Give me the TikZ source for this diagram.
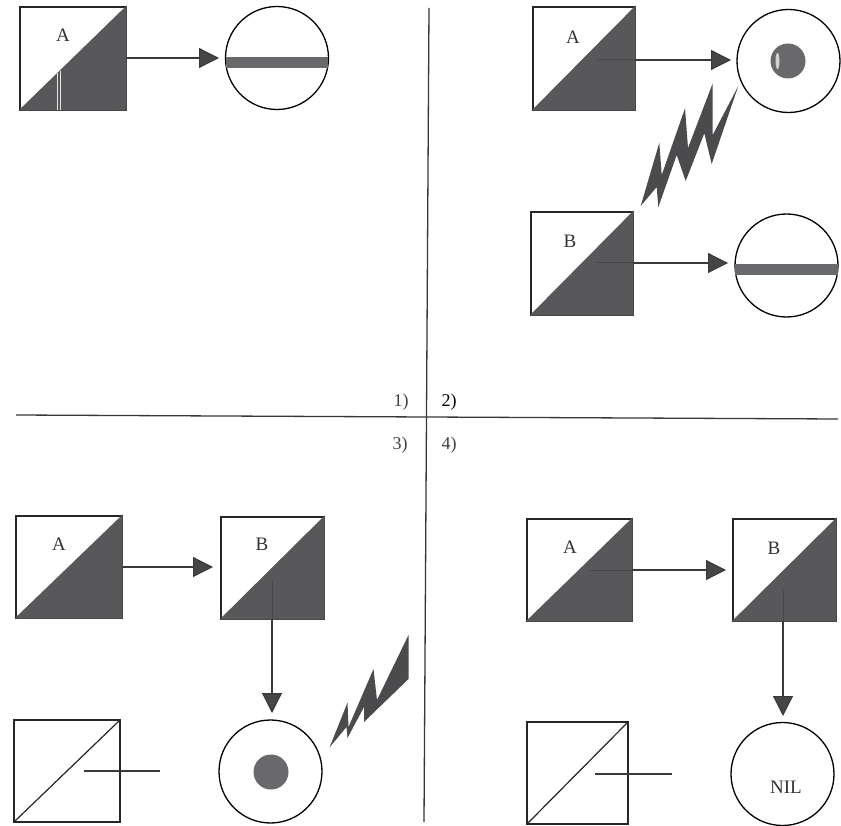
\documentclass[tikz,border=0pt]{standalone}
\usepackage{fontspec}
\setmainfont{Liberation Serif}
\usetikzlibrary{arrows.meta}
\definecolor{dk}{HTML}{58585B}
\definecolor{bar}{HTML}{69696C}
\definecolor{ln}{HTML}{3A3A3C}
\tikzset{
  x=1pt,y=-1pt,
  sq/.style 2 args={draw=black!85,line width=1.2pt,rectangle,inner sep=0pt,outer sep=0pt,minimum width=#1,minimum height=#2},
  circ/.style={draw=black,line width=1.3pt,circle,inner sep=0pt,outer sep=0pt,minimum size=103pt},
  lbl/.style={font=\fontsize{19}{21}\selectfont,text=black!80,inner sep=0pt},
  num/.style={font=\fontsize{18}{20}\selectfont,text=black!75,inner sep=0pt},
  conn/.style={draw=ln,line width=1.2pt,-{Triangle[length=20pt,width=20pt,fill=dk!80!black]}},
  stub/.style={draw=ln,line width=1.2pt},
  faint/.style={draw=black!72,line width=1pt},
  rule/.style={draw=black!78,line width=1.3pt},
  dot/.style={fill=bar,circle,inner sep=0pt,minimum size=35pt},
  bolt/.style={fill=dk!85!black,draw=none},
}
\newcommand{\halfsq}[1]{\filldraw[fill=dk,draw=dk,line width=1.2pt,line join=miter] (#1.south west) -- (#1.south east) -- (#1.north east) -- cycle;}
\newcommand{\slashsq}[1]{\draw[line width=1.2pt,black!85] (#1.south west) -- (#1.north east);}
\begin{document}
\begin{tikzpicture}
\useasboundingbox (0,0) rectangle (841,826);
\fill[white] (0,0) rectangle (841,826);

% dividing lines
\coordinate (vt) at (429,8); \coordinate (vb) at (424,822);
\coordinate (hl) at (16,415); \coordinate (hr) at (838,419);
\draw[rule] (vt) -- (vb);
\draw[rule] (hl) -- (hr);
\node[num] (n1) at (401,402) {1)};
\node[num,text=black] (n2) at (449,402) {2)};
\node[num] (n3) at (400,445) {3)};
\node[num] (n4) at (449,445) {4)};

% panel 1
\node[sq={106pt}{103pt}] (a1) at (73,58.5) {};
\halfsq{a1}
\draw[white!85!dk,line width=.8pt] (57.5,73) -- (57.5,110) (60,71) -- (60,110);
\node[lbl] (a1l) at (63,35) {A};
\node[circ] (c1) at (277,58) {};
\fill[bar] (226,57.5) rectangle (328,68);
\coordinate (t1) at (219,58);
\draw[conn] (a1.east |- t1) -- (t1);

% panel 2
\node[sq={102pt}{103pt}] (a2) at (584,58.5) {};
\halfsq{a2}
\node[lbl] (a2l) at (573,37) {A};
\node[circ] (c2) at (788.5,61) {};
\node[dot] (d2) at (788,61) {};
\fill[white!70!bar] (777.5,61) ellipse (2 and 8);
\coordinate (s2) at (598,60); \coordinate (t2) at (731,60);
\draw[faint] (s2) -- (a2.east |- s2);
\draw[conn] (a2.east |- s2) -- (t2);
\node[sq={102pt}{103pt}] (b2) at (582,263.5) {};
\halfsq{b2}
\node[lbl] (b2l) at (570,241) {B};
\node[circ] (c2b) at (786.5,265.5) {};
\fill[bar] (735,264) rectangle (838,275);
\coordinate (s2b) at (596,263); \coordinate (t2b) at (728,263);
\draw[faint] (s2b) -- (b2.east |- s2b);
\draw[conn] (b2.east |- s2b) -- (t2b);
\fill[bolt] (640.7,206) -- (659.3,142.7) -- (661.7,175) -- (685,108.3) -- (688,148) -- (712.7,83.3)
  -- (712.7,135) -- (738.3,86) -- (711.7,164) -- (704.3,133.3) -- (685.7,181) -- (676.7,155)
  -- (658.3,207.3) -- (656.7,187) -- cycle;

% panel 3
\node[sq={106pt}{102pt}] (a3) at (69,567) {};
\halfsq{a3}
\node[lbl] (a3l) at (59,544) {A};
\node[sq={103pt}{102pt}] (b3) at (272.5,568) {};
\halfsq{b3}
\node[lbl] (b3l) at (262,544) {B};
\coordinate (t3) at (213,567);
\draw[conn] (a3.east |- t3) -- (t3);
\node[circ] (c3) at (270.5,771.5) {};
\node[dot] (d3) at (271,772) {};
\coordinate (s3) at (272,580); \coordinate (t3b) at (272,713);
\draw[faint] (s3) -- (s3 |- b3.south);
\draw[conn] (s3 |- b3.south) -- (t3b);
\node[sq={106pt}{102pt}] (e3) at (67,771) {};
\slashsq{e3}
\coordinate (s3c) at (84,771); \coordinate (t3c) at (160,771);
\draw[stub] (s3c) -- (t3c);
\fill[bolt] (329.5,747.5) -- (347.5,702.5) -- (348.5,727) -- (373.5,669) -- (377,700) -- (408.5,635)
  -- (408.5,679) -- (364,722) -- (364,707) -- (347.5,738) -- (346.5,727) -- cycle;

% panel 4
\node[sq={105pt}{102pt}] (a4) at (579.5,570) {};
\halfsq{a4}
\node[lbl] (a4l) at (570,547) {A};
\node[sq={103pt}{102pt}] (b4) at (784.5,570) {};
\halfsq{b4}
\node[lbl] (b4l) at (774,548) {B};
\coordinate (s4) at (590,570); \coordinate (t4) at (726,570);
\draw[faint] (s4) -- (a4.east);
\draw[conn] (a4.east) -- (t4);
\node[circ] (c4) at (782.5,774) {};
\node[lbl] (nil) at (786,787) {NIL};
\coordinate (s4b) at (783,590); \coordinate (t4b) at (783,716);
\draw[faint] (s4b) -- (s4b |- b4.south);
\draw[conn] (s4b |- b4.south) -- (t4b);
\node[sq={101pt}{102pt}] (e4) at (577.5,773) {};
\slashsq{e4}
\coordinate (s4c) at (595,774); \coordinate (t4c) at (672,774);
\draw[stub] (s4c) -- (t4c);
\end{tikzpicture}
\end{document}
